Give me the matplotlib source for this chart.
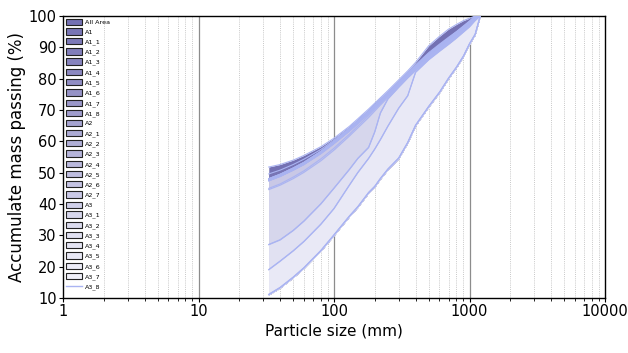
import matplotlib
matplotlib.use("Agg")
import matplotlib.pyplot as plt
from matplotlib.patches import Patch
from matplotlib.lines import Line2D
from matplotlib.ticker import LogLocator, NullFormatter, FixedLocator

# ---------------- data ----------------
sizes = [33, 40, 50, 60, 80, 100, 130, 150, 180, 200, 220, 250, 300, 350, 400,
         500, 600, 700, 800, 900, 1000, 1100, 1200]

series_names = ["All Area", "A1", "A1_1", "A1_2", "A1_3", "A1_4", "A1_5", "A1_6", "A1_7", "A1_8",
                "A2", "A2_1", "A2_2", "A2_3", "A2_4", "A2_5", "A2_6", "A2_7",
                "A3", "A3_1", "A3_2", "A3_3", "A3_4", "A3_5", "A3_6", "A3_7", "A3_8"]

all_area = [51.8, 52.6, 54.0, 55.5, 58.3, 61.0, 64.8, 67.2, 70.3, 72.2, 73.9, 76.2, 79.6, 82.5, 85.2, 90.5, 93.5, 95.8, 97.3, 98.5, 99.3, 100, 100]
a1   = [49.6, 50.8, 52.6, 54.3, 57.4, 60.4, 64.3, 66.7, 69.8, 71.7, 73.4, 75.7, 79.1, 82.0, 84.4, 88.3, 91.0, 93.2, 95.0, 96.8, 98.4, 100, 100]
a1_1 = [48.1, 49.5, 51.5, 53.3, 56.8, 60.0, 64.0, 66.4, 69.5, 71.4, 73.1, 75.4, 78.8, 81.7, 84.1, 87.9, 90.7, 92.9, 94.9, 96.6, 98.2, 99.9, 100]
a1_2 = [48.1, 49.5, 51.5, 53.3, 56.8, 60.0, 64.0, 66.4, 69.5, 71.4, 73.1, 75.4, 78.8, 81.7, 84.1, 87.9, 90.7, 92.9, 94.9, 96.6, 98.2, 99.9, 100]
a1_3 = [48.0, 49.4, 51.4, 53.2, 56.7, 59.9, 63.9, 66.3, 69.4, 71.3, 73.0, 75.3, 78.7, 81.6, 84.0, 87.8, 90.6, 92.8, 94.8, 96.5, 98.1, 99.8, 100]
a1_4 = [48.0, 49.4, 51.4, 53.2, 56.7, 59.9, 63.9, 66.3, 69.4, 71.3, 73.0, 75.3, 78.7, 81.6, 84.0, 87.8, 90.6, 92.8, 94.8, 96.5, 98.1, 99.8, 100]
a1_5 = [47.9, 49.3, 51.3, 53.1, 56.6, 59.8, 63.8, 66.2, 69.3, 71.2, 72.9, 75.2, 78.6, 81.5, 83.9, 87.7, 90.5, 92.7, 94.7, 96.4, 98.0, 99.8, 100]
a1_6 = [47.9, 49.3, 51.3, 53.1, 56.6, 59.8, 63.8, 66.2, 69.3, 71.2, 72.9, 75.2, 78.6, 81.5, 83.9, 87.7, 90.5, 92.7, 94.7, 96.4, 98.0, 99.8, 100]
a1_7 = [47.8, 49.2, 51.2, 53.0, 56.5, 59.7, 63.7, 66.1, 69.2, 71.1, 72.8, 75.1, 78.5, 81.4, 83.8, 87.6, 90.4, 92.6, 94.6, 96.3, 97.9, 99.7, 100]
a1_8 = [47.8, 49.2, 51.2, 53.0, 56.5, 59.7, 63.7, 66.1, 69.2, 71.1, 72.8, 75.1, 78.5, 81.4, 83.8, 87.6, 90.4, 92.6, 94.6, 96.3, 97.9, 99.7, 100]
a2   = [47.7, 49.1, 51.1, 52.9, 56.4, 59.6, 63.6, 66.0, 69.1, 71.0, 72.7, 75.0, 78.4, 81.3, 83.7, 87.4, 90.2, 92.4, 94.4, 96.2, 97.8, 99.6, 100]
a2_1 = [47.7, 49.1, 51.1, 52.9, 56.4, 59.6, 63.6, 66.0, 69.1, 71.0, 72.7, 75.0, 78.4, 81.3, 83.7, 87.4, 90.2, 92.4, 94.4, 96.2, 97.8, 99.6, 100]
a2_2 = [47.6, 49.0, 51.0, 52.8, 56.3, 59.5, 63.5, 65.9, 69.0, 70.9, 72.6, 74.9, 78.3, 81.2, 83.6, 87.3, 90.1, 92.3, 94.3, 96.1, 97.7, 99.5, 100]
a2_3 = [47.6, 49.0, 51.0, 52.8, 56.3, 59.5, 63.5, 65.9, 69.0, 70.9, 72.6, 74.9, 78.3, 81.2, 83.6, 87.3, 90.1, 92.3, 94.3, 96.1, 97.7, 99.5, 100]
a2_4 = [47.5, 48.9, 50.9, 52.7, 56.2, 59.4, 63.4, 65.8, 68.9, 70.8, 72.5, 74.8, 78.2, 81.1, 83.5, 87.2, 90.0, 92.2, 94.2, 96.0, 97.6, 99.5, 100]
a2_5 = [47.5, 48.9, 50.9, 52.7, 56.2, 59.4, 63.4, 65.8, 68.9, 70.8, 72.5, 74.8, 78.2, 81.1, 83.5, 87.2, 90.0, 92.2, 94.2, 96.0, 97.6, 99.5, 100]
a2_6 = [47.4, 48.8, 50.8, 52.6, 56.1, 59.3, 63.3, 65.7, 68.8, 70.7, 72.4, 74.7, 78.1, 81.0, 83.4, 87.1, 89.9, 92.1, 94.1, 95.9, 97.5, 99.4, 100]
a2_7 = [47.4, 48.8, 50.8, 52.6, 56.1, 59.3, 63.3, 65.7, 68.8, 70.7, 72.4, 74.7, 78.1, 81.0, 83.4, 87.1, 89.9, 92.1, 94.1, 95.9, 97.5, 99.4, 100]
a3   = [45.0, 46.4, 48.6, 50.6, 54.4, 57.8, 62.3, 64.9, 68.2, 70.2, 72.0, 74.4, 77.9, 80.8, 83.2, 86.9, 89.6, 91.8, 93.8, 95.6, 97.3, 99.2, 100]
a3_1 = [44.6, 46.0, 48.1, 50.1, 53.8, 57.2, 61.7, 64.3, 67.6, 69.7, 71.6, 74.0, 77.5, 80.4, 82.8, 86.5, 89.2, 91.4, 93.4, 95.3, 97.0, 99.0, 100]
a3_2 = [27.1, 28.6, 31.6, 34.6, 40.1, 45.1, 51.1, 54.6, 58.1, 63.1, 69.1, 73.6, 77.3, 80.3, 82.7, 86.4, 89.1, 91.3, 93.3, 95.2, 96.9, 98.9, 100]
a3_3 = [27.0, 28.5, 31.5, 34.5, 40.0, 45.0, 51.0, 54.5, 58.0, 63.0, 69.0, 73.5, 77.2, 80.2, 82.6, 86.3, 89.0, 91.2, 93.2, 95.1, 96.8, 98.8, 100]
a3_4 = [19.1, 21.8, 25.1, 28.1, 33.6, 38.6, 46.1, 50.1, 54.6, 57.6, 60.6, 64.9, 70.6, 74.6, 82.1, 86.1, 88.8, 91.0, 93.0, 94.9, 96.6, 98.6, 100]
a3_5 = [19.0, 21.7, 25.0, 28.0, 33.5, 38.5, 46.0, 50.0, 54.5, 57.5, 60.5, 64.8, 70.5, 74.5, 82.0, 86.0, 88.7, 90.9, 92.9, 94.8, 96.5, 98.5, 100]
a3_6 = [11.2, 13.4, 16.7, 19.7, 25.2, 30.2, 36.2, 39.2, 43.7, 45.7, 48.2, 51.2, 54.7, 59.7, 65.2, 71.2, 75.7, 80.2, 83.7, 87.2, 91.2, 94.2, 100]
a3_7 = [11.1, 13.3, 16.6, 19.6, 25.1, 30.1, 36.1, 39.1, 43.6, 45.6, 48.1, 51.1, 54.6, 59.6, 65.1, 71.1, 75.6, 80.1, 83.6, 87.1, 91.1, 94.1, 100]
a3_8 = [11.0, 13.2, 16.5, 19.5, 25.0, 30.0, 36.0, 39.0, 43.5, 45.5, 48.0, 51.0, 54.5, 59.5, 65.0, 71.0, 75.5, 80.0, 83.5, 87.0, 91.0, 94.0, 100]

series_values = [all_area, a1, a1_1, a1_2, a1_3, a1_4, a1_5, a1_6, a1_7, a1_8,
                 a2, a2_1, a2_2, a2_3, a2_4, a2_5, a2_6, a2_7,
                 a3, a3_1, a3_2, a3_3, a3_4, a3_5, a3_6, a3_7, a3_8]

x_ticks = [1, 10, 100, 1000, 10000]
x_tick_labels = ["1", "10", "100", "1000", "10000"]
y_ticks = [10, 20, 30, 40, 50, 60, 70, 80, 90, 100]

# ---------------- style ----------------
fill_colors = ["#7471b3", "#7875b5", "#7c79b8", "#817eba", "#8683bd", "#8b88c0", "#908dc3",
               "#9592c6", "#9a97c9", "#9f9ccc", "#a5a3d0", "#abaad4", "#b0afd7", "#b5b4da",
               "#bab9dd", "#bfbee0", "#c4c3e3", "#c9c8e6", "#d0d0ea", "#d6d6ec", "#dcdcef",
               "#e1e1f2", "#e5e5f4", "#e9e9f6", "#ededf8", "#f0f0f9", None]
edge_color = "#aab4f2"

fig = plt.figure(figsize=(6.28, 3.53), dpi=100)
ax = fig.add_axes([63 / 628, 55 / 353, 542 / 628, 282 / 353])

lowest = series_values[-1]
for name, vals, col in zip(series_names, series_values, fill_colors):
    if col is not None:
        ax.fill_between(sizes, vals, lowest, color=col, lw=0, zorder=2)
    ax.plot(sizes, vals, color=edge_color, lw=0.8, zorder=3)

ax.set_xscale("log")
ax.set_xlim(1, 10000)
ax.set_ylim(10, 100)

ax.xaxis.set_major_locator(FixedLocator(x_ticks))
ax.set_xticklabels(x_tick_labels)
ax.xaxis.set_minor_locator(LogLocator(base=10, subs=range(2, 10)))
ax.xaxis.set_minor_formatter(NullFormatter())
ax.set_yticks(y_ticks)

for v in [10, 100, 1000]:
    ax.axvline(v, color="#8c8c8c", lw=0.9, zorder=1)
ax.grid(True, which="minor", axis="x", color="#c8c8c8", lw=0.7, ls=(0, (1, 1.2)), zorder=1)

ax.tick_params(axis="both", which="major", direction="out", length=3, width=0.8, labelsize=10.5, pad=1.5)
ax.tick_params(axis="x", which="minor", direction="out", length=2, width=0.6)
for sp in ax.spines.values():
    sp.set_linewidth(1.0)

ax.set_xlabel("Particle size (mm)", fontsize=11, labelpad=3)
ax.set_ylabel("Accumulate mass passing (%)", fontsize=12, labelpad=2)

handles = []
for name, col in zip(series_names, fill_colors):
    if col is None:
        handles.append(Line2D([], [], color=edge_color, lw=1.0))
    else:
        handles.append(Patch(facecolor=col, edgecolor="#222222", lw=0.8))
leg = ax.legend(handles, series_names, loc="upper left", bbox_to_anchor=(0.003, 0.995),
                frameon=False, fontsize=4.6, labelspacing=0.51, handlelength=2.5,
                handleheight=1.15, handletextpad=0.5, borderaxespad=0.0, borderpad=0.2)
leg.set_zorder(5)

fig.savefig("out.png", dpi=100)
